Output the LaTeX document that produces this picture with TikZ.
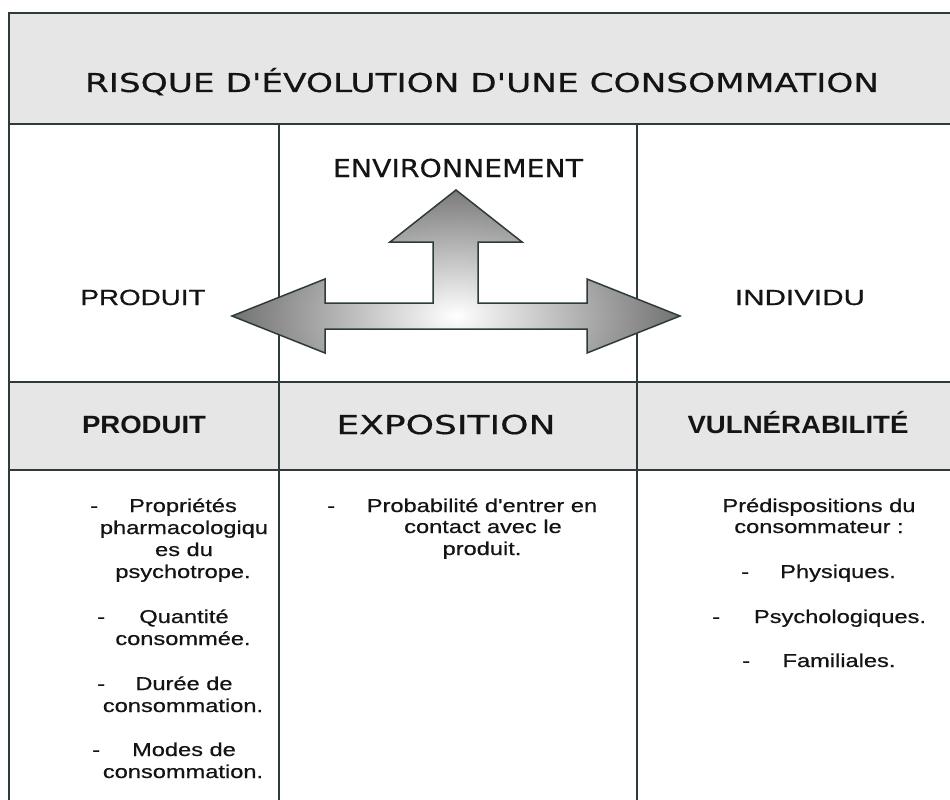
\documentclass[tikz,border=0pt]{standalone}
\usepackage{fontspec}
\usepackage{graphicx}
\setmainfont{Liberation Sans}
\newfontfamily\verd[FakeBold=0.4]{DejaVu Sans}
\newfontfamily\bodyf[FakeStretch=1.27,FakeBold=0.6]{Liberation Sans}
\newfontfamily\hdrf[FakeStretch=1.1]{Liberation Sans}
\newcommand\fitw[2]{\resizebox{#1}{\height}{#2}}
\definecolor{cellgray}{HTML}{E6E6E6}
\definecolor{gridc}{HTML}{2F3A3D}
\definecolor{txt}{HTML}{141414}
\tikzset{
  gridline/.style={draw=gridc, line width=1.4pt},
  lbl/.style={inner sep=0pt, anchor=base, text=txt},
  body/.style={lbl, font=\bodyf\fontsize{18.6}{22}\selectfont},
  hyph/.style={body, anchor=base west},
  verdlbl/.style={lbl, font=\verd\fontsize{26}{30}\selectfont},
  hdrlbl/.style={lbl, font=\hdrf\bfseries\fontsize{25}{30}\selectfont},
  rowlbl/.style={lbl, font=\bodyf\fontsize{21.9}{26}\selectfont},
  arrowline/.style={draw=gridc, line width=1.5pt, line join=miter}
}
\begin{document}
\begin{tikzpicture}[x=1pt, y=-1pt]
\useasboundingbox (0,0) rectangle (950,800);
\fill[white] (0,0) rectangle (950,800);
% gray rows
\fill[cellgray] (9,13) rectangle (950,124);
\fill[cellgray] (9,382) rectangle (950,470);
% grid lines
\draw[gridline] (950,13) -- (9,13) -- (9,800);
\draw[gridline] (9,124) -- (950,124);
\draw[gridline] (9,382) -- (950,382);
\draw[gridline] (9,470) -- (950,470);
\draw[gridline] (279,124) -- (279,800);
\draw[gridline] (637,124) -- (637,800);
% arrow
\begin{scope}
\clip (232,316) -- (325,279) -- (325,303) -- (433,303) -- (433,242) -- (390,242) -- (456,190) -- (522,242) -- (478,242) -- (478,303) -- (587,303) -- (587,279) -- (680,316) -- (587,353) -- (587,329) -- (325,329) -- (325,353) -- cycle;
\shade[inner color=white, outer color=black!62] (456,316) ellipse [x radius=250pt, y radius=150pt];
\end{scope}
\draw[arrowline] (232,316) -- (325,279) -- (325,303) -- (433,303) -- (433,242) -- (390,242) -- (456,190) -- (522,242) -- (478,242) -- (478,303) -- (587,303) -- (587,279) -- (680,316) -- (587,353) -- (587,329) -- (325,329) -- (325,353) -- cycle;
% title
\node[verdlbl] (title) at (482,92) {\fitw{794pt}{RISQUE D'ÉVOLUTION D'UNE CONSOMMATION}};
% row 2
\node[verdlbl, font=\verd\fontsize{24.7}{30}\selectfont] (env) at (458,177) {\fitw{250pt}{ENVIRONNEMENT}};
\node[rowlbl] (prod2) at (143,305) {\fitw{125pt}{PRODUIT}};
\node[rowlbl] (indiv) at (800,305) {\fitw{130pt}{INDIVIDU}};
% row 3
\node[hdrlbl] (prod3) at (144,433) {\fitw{124pt}{PRODUIT}};
\node[verdlbl] (expo) at (446,434) {\fitw{219pt}{EXPOSITION}};
\node[hdrlbl] (vuln) at (798,433) {\fitw{221pt}{VULNÉRABILITÉ}};
% column 1 body
\node[hyph] (c1d1) at (90,512) {-};
\node[body] (c1l1) at (183,512) {Propriétés};
\node[body] (c1l2) at (184,534) {pharmacologiqu};
\node[body] (c1l3) at (184,556) {es du};
\node[body] (c1l4) at (183,578) {psychotrope.};
\node[hyph] (c1d2) at (97,623) {-};
\node[body] (c1l5) at (184,623) {Quantité};
\node[body] (c1l6) at (183,645) {consommée.};
\node[hyph] (c1d3) at (97,690) {-};
\node[body] (c1l7) at (184,690) {Durée de};
\node[body] (c1l8) at (183,712) {consommation.};
\node[hyph] (c1d4) at (92,756) {-};
\node[body] (c1l9) at (184,756) {Modes de};
\node[body] (c1l10) at (183,778) {consommation.};
% column 2 body
\node[hyph] (c2d1) at (327,512) {-};
\node[body] (c2l1) at (482,512) {Probabilité d'entrer en};
\node[body] (c2l2) at (483,533) {contact avec le};
\node[body] (c2l3) at (482,555) {produit.};
% column 3 body
\node[body] (c3l1) at (819,512) {Prédispositions du};
\node[body] (c3l2) at (819,533) {consommateur :};
\node[hyph] (c3d1) at (741,578) {-};
\node[body] (c3l3) at (838,578) {Physiques.};
\node[hyph] (c3d2) at (712,623) {-};
\node[body] (c3l4) at (840,623) {Psychologiques.};
\node[hyph] (c3d3) at (742,667) {-};
\node[body] (c3l5) at (839,667) {Familiales.};
\end{tikzpicture}
\end{document}
